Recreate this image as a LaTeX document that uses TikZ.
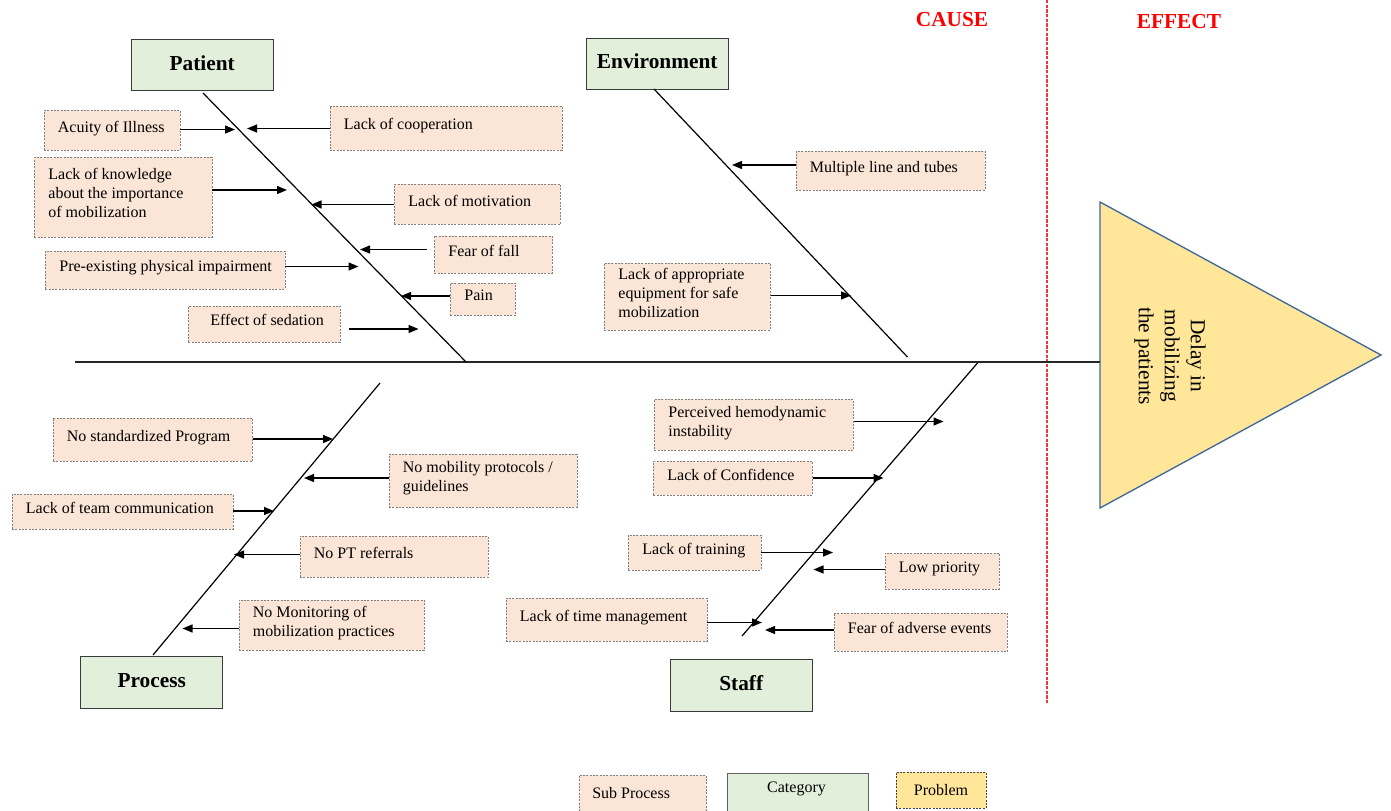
\documentclass[tikz,border=0pt]{standalone}
\usepackage{fontspec}
\setmainfont{Liberation Serif}
\usetikzlibrary{arrows.meta}
\definecolor{subfill}{HTML}{FBE5D6}
\definecolor{subline}{HTML}{808080}
\definecolor{catfill}{HTML}{E2EFDA}
\definecolor{catline}{HTML}{3A3A3A}
\definecolor{probfill}{HTML}{FFE699}
\definecolor{probline}{HTML}{41689C}
\definecolor{effred}{HTML}{FF0000}
\definecolor{divred}{HTML}{E83A3A}
\newcommand\bodyfont{\fontsize{12}{14.25}\selectfont}
\newcommand\catfont{\bfseries\fontsize{16}{19}\selectfont}
% name, x, y, w, h, text  (pixels)
\newcommand\subnode[6]{\pgfmathsetlengthmacro\sbw{0.75pt*#4-21pt}\node[sub, minimum height=#5*0.75pt] (#1) at (#2,#3) {\makebox[\sbw][l]{\begin{tabular}{@{}l@{}}#6\rule[-7.5pt]{0pt}{0pt}\end{tabular}}};}
\newcommand\catnode[6]{\node[cat, minimum width=#4*0.75pt, minimum height=#5*0.75pt] (#1) at (#2,#3) {#6};}
\tikzset{
  sub/.style={draw=subline, dash pattern=on 1.5pt off 1pt, line width=0.6pt, fill=subfill,
    anchor=north west, inner xsep=10.5pt, inner ysep=0pt, font=\bodyfont},
  cat/.style={draw=catline, line width=1.1pt, fill=catfill, anchor=north west, inner sep=0pt, font=\catfont,
    text height=11.5pt, text depth=4pt},
  arr/.style={-{Triangle[length=7.5pt,width=6pt]}, line width=1pt},
  bone/.style={line width=0.9pt},
  spine/.style={line width=1.1pt, draw=black!85},
  hdr/.style={text=effred, font=\catfont, inner sep=0pt},
  divider/.style={draw=divred, line width=0.9pt, dash pattern=on 2.5pt off 1pt},
  prob/.style={draw=probline, line width=1pt, fill=probfill},
}
\begin{document}
\begin{tikzpicture}[x=0.75pt, y=-0.75pt]
\useasboundingbox (0,0) rectangle (1391,810);

% headers and divider
\node[hdr] (cause) at (952,20) {CAUSE};
\node[hdr] (effect) at (1179,22) {EFFECT};
\coordinate (divT) at (1047,0);
\coordinate (divB) at (1047,704);
\draw[divider] (divT) -- (divB);

% problem triangle
\coordinate (triA) at (1100,202);
\coordinate (triB) at (1381,355);
\coordinate (triC) at (1100,508);
\draw[prob] (triA) -- (triB) -- (triC) -- cycle;
\node[rotate=-90, align=center, font=\fontsize{16}{19.5}\selectfont] (probtxt) at (1170,356) {Delay in\\mobilizing\\the patients};

% spine
\coordinate (spineL) at (75,362);
\coordinate (spineR) at (1100,362);
\draw[spine] (spineL) -- (spineR);

% categories
\catnode{pat}{130.5}{39}{142}{51}{Patient}
\catnode{env}{585.5}{37.5}{142}{51}{Environment}
\catnode{proc}{80}{656}{142}{52}{Process}
\catnode{staff}{669.5}{659}{142}{52}{Staff}

% bones
\coordinate (patA) at (203,93);   \coordinate (patB) at (466,362);
\coordinate (envA) at (654,89);   \coordinate (envB) at (907.5,357);
\coordinate (procA) at (380,383); \coordinate (procB) at (153,655);
\coordinate (stA) at (977.5,363); \coordinate (stB) at (742,636);
\draw[bone] (patA) -- (patB);
\draw[bone] (envA) -- (envB);
\draw[bone] (procA) -- (procB);
\draw[bone] (stA) -- (stB);

% Patient causes
\subnode{acu}{43.5}{110}{136}{40}{Acuity of Illness}
\subnode{coop}{329.5}{105.5}{232}{44.5}{Lack of cooperation}
\subnode{know}{34}{157}{177.5}{79.5}{Lack of knowledge\\about the importance\\of mobilization}
\subnode{motiv}{394}{184}{166}{40}{Lack of motivation}
\subnode{fall}{434}{235.5}{118}{37}{Fear of fall}
\subnode{preex}{45}{250.5}{239.5}{38}{Pre-existing physical impairment}
\subnode{pain}{450}{282.5}{65}{32.5}{Pain}
\subnode{sed}{188}{306}{152}{35.5}{\hspace*{6pt}Effect of sedation}

\coordinate (tacu) at (235,129.5);
\coordinate (tcoop) at (247,128.5);
\coordinate (tknow) at (287,190);
\coordinate (tmotiv) at (311.5,204.5);
\coordinate (tfall) at (360,249.5);
\coordinate (tpre) at (358.5,266.5);
\coordinate (tpain) at (401,296);
\coordinate (tsed) at (418.5,329);
\draw[arr] (acu.east |- tacu) -- (tacu);
\draw[arr] (coop.west |- tcoop) -- (tcoop);
\draw[arr] (know.east |- tknow) -- (tknow);
\draw[arr] (motiv.west |- tmotiv) -- (tmotiv);
\draw[arr, shorten <=5pt] (fall.west |- tfall) -- (tfall);
\draw[arr] (preex.east |- tpre) -- (tpre);
\draw[arr] (pain.west |- tpain) -- (tpain);
\draw[arr, shorten <=6pt] (sed.east |- tsed) -- (tsed);

% Environment causes
\subnode{mult}{795.5}{151}{189.5}{38.5}{Multiple line and tubes}
\subnode{equip}{604}{262.5}{166}{67}{Lack of appropriate\\equipment for safe\\mobilization}
\coordinate (tmult) at (732,165);
\coordinate (tequip) at (851,295.5);
\draw[arr] (mult.west |- tmult) -- (tmult);
\draw[arr] (equip.east |- tequip) -- (tequip);

% Process causes
\subnode{nsp}{52.5}{417.5}{199.5}{43.5}{No standardized Program}
\subnode{nmp}{388.5}{454}{188}{52.5}{No mobility protocols /\\guidelines}
\subnode{ltc}{11.5}{493.5}{221}{35}{Lack of team communication}
\subnode{npt}{299.5}{535.5}{188}{41.5}{No PT referrals}
\subnode{nmon}{238.5}{599.5}{185}{50.5}{No Monitoring of\\mobilization practices}
\coordinate (tnsp) at (333,439);
\coordinate (tnmp) at (304,478);
\coordinate (tltc) at (274,511);
\coordinate (tnpt) at (234,554.5);
\coordinate (tnmon) at (182.5,628.5);
\draw[arr] (nsp.east |- tnsp) -- (tnsp);
\draw[arr] (nmp.west |- tnmp) -- (tnmp);
\draw[arr] (ltc.east |- tltc) -- (tltc);
\draw[arr] (npt.west |- tnpt) -- (tnpt);
\draw[arr] (nmon.west |- tnmon) -- (tnmon);

% Staff causes
\subnode{phi}{654}{399}{199}{51}{Perceived hemodynamic\\instability}
\subnode{conf}{653}{461}{159}{34}{Lack of Confidence}
\subnode{train}{628}{534.5}{132.5}{35}{Lack of training}
\subnode{low}{884.5}{552.5}{114}{36}{Low priority}
\subnode{tman}{505.5}{598}{201}{43}{Lack of time management}
\subnode{fear}{833.5}{612.5}{173.5}{38.5}{Fear of adverse events}
\coordinate (tphi) at (943.5,421.5);
\coordinate (tconf) at (883.5,478);
\coordinate (ttrain) at (833,552.5);
\coordinate (tlow) at (813.5,569.5);
\coordinate (ttman) at (762,622.5);
\coordinate (tfear) at (765,630);
\draw[arr] (phi.east |- tphi) -- (tphi);
\draw[arr] (conf.east |- tconf) -- (tconf);
\draw[arr] (train.east |- ttrain) -- (ttrain);
\draw[arr] (low.west |- tlow) -- (tlow);
\draw[arr] (tman.east |- ttman) -- (ttman);
\draw[arr] (fear.west |- tfear) -- (tfear);

% legend
\node[sub, minimum width=127*0.75pt, minimum height=42*0.75pt] (legsub) at (578.5,775) {};
\node[font=\bodyfont, anchor=west, inner sep=0pt] (legsubt) at (592,793) {Sub Process};
\node[draw=catline!80, line width=0.8pt, fill=catfill, anchor=north west, inner sep=0pt, minimum width=141*0.75pt, minimum height=45*0.75pt] (legcat) at (726.5,772.5) {};
\node[font=\bodyfont, inner sep=0pt] (legcatt) at (796.5,789) {Category};
\node[draw=black!75, dash pattern=on 1.5pt off 1pt, line width=0.7pt, fill=probfill, anchor=north west, inner sep=0pt, minimum width=90*0.75pt, minimum height=36*0.75pt, font=\bodyfont] (legprob) at (895.5,772) {Problem};
\end{tikzpicture}
\end{document}
